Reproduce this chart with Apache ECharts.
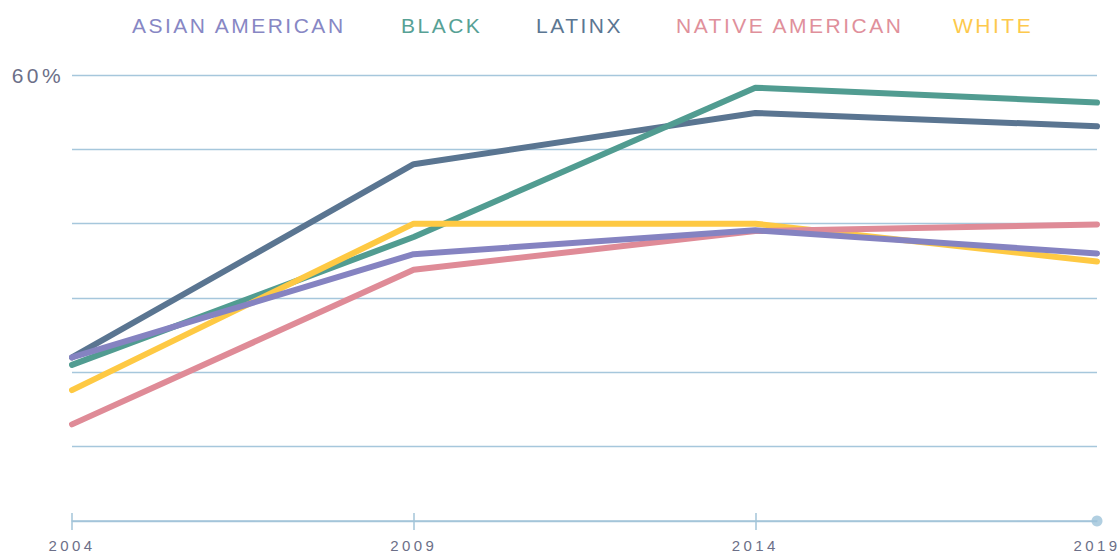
<!DOCTYPE html>
<html>
<head>
    <meta charset="utf-8">
    <title>Share by group</title>
    <script src="https://cdn.jsdelivr.net/npm/echarts@6/dist/echarts.min.js"></script>
    <style>
        html, body { margin: 0; padding: 0; background: #fff; }
        /* letter spaced labels, as in the original */
        #main text { letter-spacing: 2.5px; }
        #main text[fill="#6c6f88"] { letter-spacing: 3.4px; }
    </style>
</head>
<body>
    <div id="main" style="width: 1120px;height:555px;"></div>

<script type="text/javascript">
    // values (percent)
    var years = ['2004', '2009', '2014', '2019'];
    var asianAmerican = [22.0, 35.9, 39.1, 36.0];
    var black = [21.0, 38.2, 58.3, 56.3];
    var latinx = [22.0, 48.0, 54.9, 53.1];
    var nativeAmerican = [13.0, 33.8, 39.0, 39.9];
    var white = [17.6, 40.0, 40.0, 34.9];
    var yMin = 0, yMax = 60, yStep = 10;
    var axisEnd = [[3, 0]]; // dot at the end of the x axis

    var font = 'Liberation Sans';
    var labelColor = '#6c6f88';
    var gridColor = '#a6c7dc';

    var myChart = echarts.init(document.getElementById('main'), null, { renderer: 'svg' });

    function legendFor(name, left, color) {
        return {
            data: [name],
            left: left,
            top: 10,
            icon: 'rect',
            itemWidth: 0,
            itemHeight: 0,
            itemStyle: { opacity: 0 },
            lineStyle: { opacity: 0 },
            selectedMode: false,
            textStyle: { color: color, fontSize: 21, fontFamily: font }
        };
    }

    function lineSeries(name, data, color) {
        return {
            name: name,
            type: 'line',
            data: data,
            symbol: 'none',
            lineStyle: { color: color, width: 6, cap: 'round', join: 'round' },
            itemStyle: { color: color },
            emphasis: { disabled: true }
        };
    }

    var option = {
        backgroundColor: '#fff',
        animation: false,
        legend: [
            legendFor('ASIAN AMERICAN', 122, '#8787c4'),
            legendFor('BLACK', 391, '#57a195'),
            legendFor('LATINX', 526, '#5b7692'),
            legendFor('NATIVE AMERICAN', 666, '#e0909b'),
            legendFor('WHITE', 943, '#fdc94c')
        ],
        grid: { left: 72, right: 23, top: 75, bottom: 34 },
        xAxis: [{
            type: 'category',
            data: years,
            boundaryGap: false,
            axisLine: { lineStyle: { color: '#a3c4d9', width: 1.5 } },
            axisTick: {
                interval: function (index) { return index < 3; },
                length: 9,
                lineStyle: { color: '#a3c4d9', width: 1.5 }
            },
            axisLabel: {
                margin: 17,
                fontSize: 15,
                color: labelColor,
                fontFamily: font,
                showMaxLabel: true,
                showMinLabel: true
            },
            splitLine: { show: false }
        }, {
            // second axis only for the upward half of the ticks
            type: 'category',
            data: years,
            boundaryGap: false,
            position: 'bottom',
            axisLine: { show: false },
            axisTick: {
                inside: true,
                interval: function (index) { return index < 3; },
                length: 8,
                lineStyle: { color: '#a3c4d9', width: 1.5 }
            },
            axisLabel: { show: false },
            splitLine: { show: false }
        }],
        yAxis: {
            type: 'value',
            min: yMin,
            max: yMax,
            interval: yStep,
            axisLine: { show: false },
            axisTick: { show: false },
            axisLabel: {
                margin: 8,
                fontSize: 21,
                color: labelColor,
                fontFamily: font,
                formatter: function (v) { return v === yMax ? v + '%' : ''; }
            },
            splitLine: { lineStyle: { color: gridColor, width: 1.4 } }
        },
        series: [
            lineSeries('LATINX', latinx, '#5a7591'),
            lineSeries('BLACK', black, '#519c91'),
            lineSeries('WHITE', white, '#fec943'),
            lineSeries('NATIVE AMERICAN', nativeAmerican, '#df8b97'),
            lineSeries('ASIAN AMERICAN', asianAmerican, '#8583c1'),
            {
                type: 'scatter',
                data: axisEnd,
                symbolSize: 11,
                clip: false,
                silent: true,
                itemStyle: { color: '#9dc3da' }
            }
        ]
    };

    myChart.setOption(option);
</script>
</body>
</html>
